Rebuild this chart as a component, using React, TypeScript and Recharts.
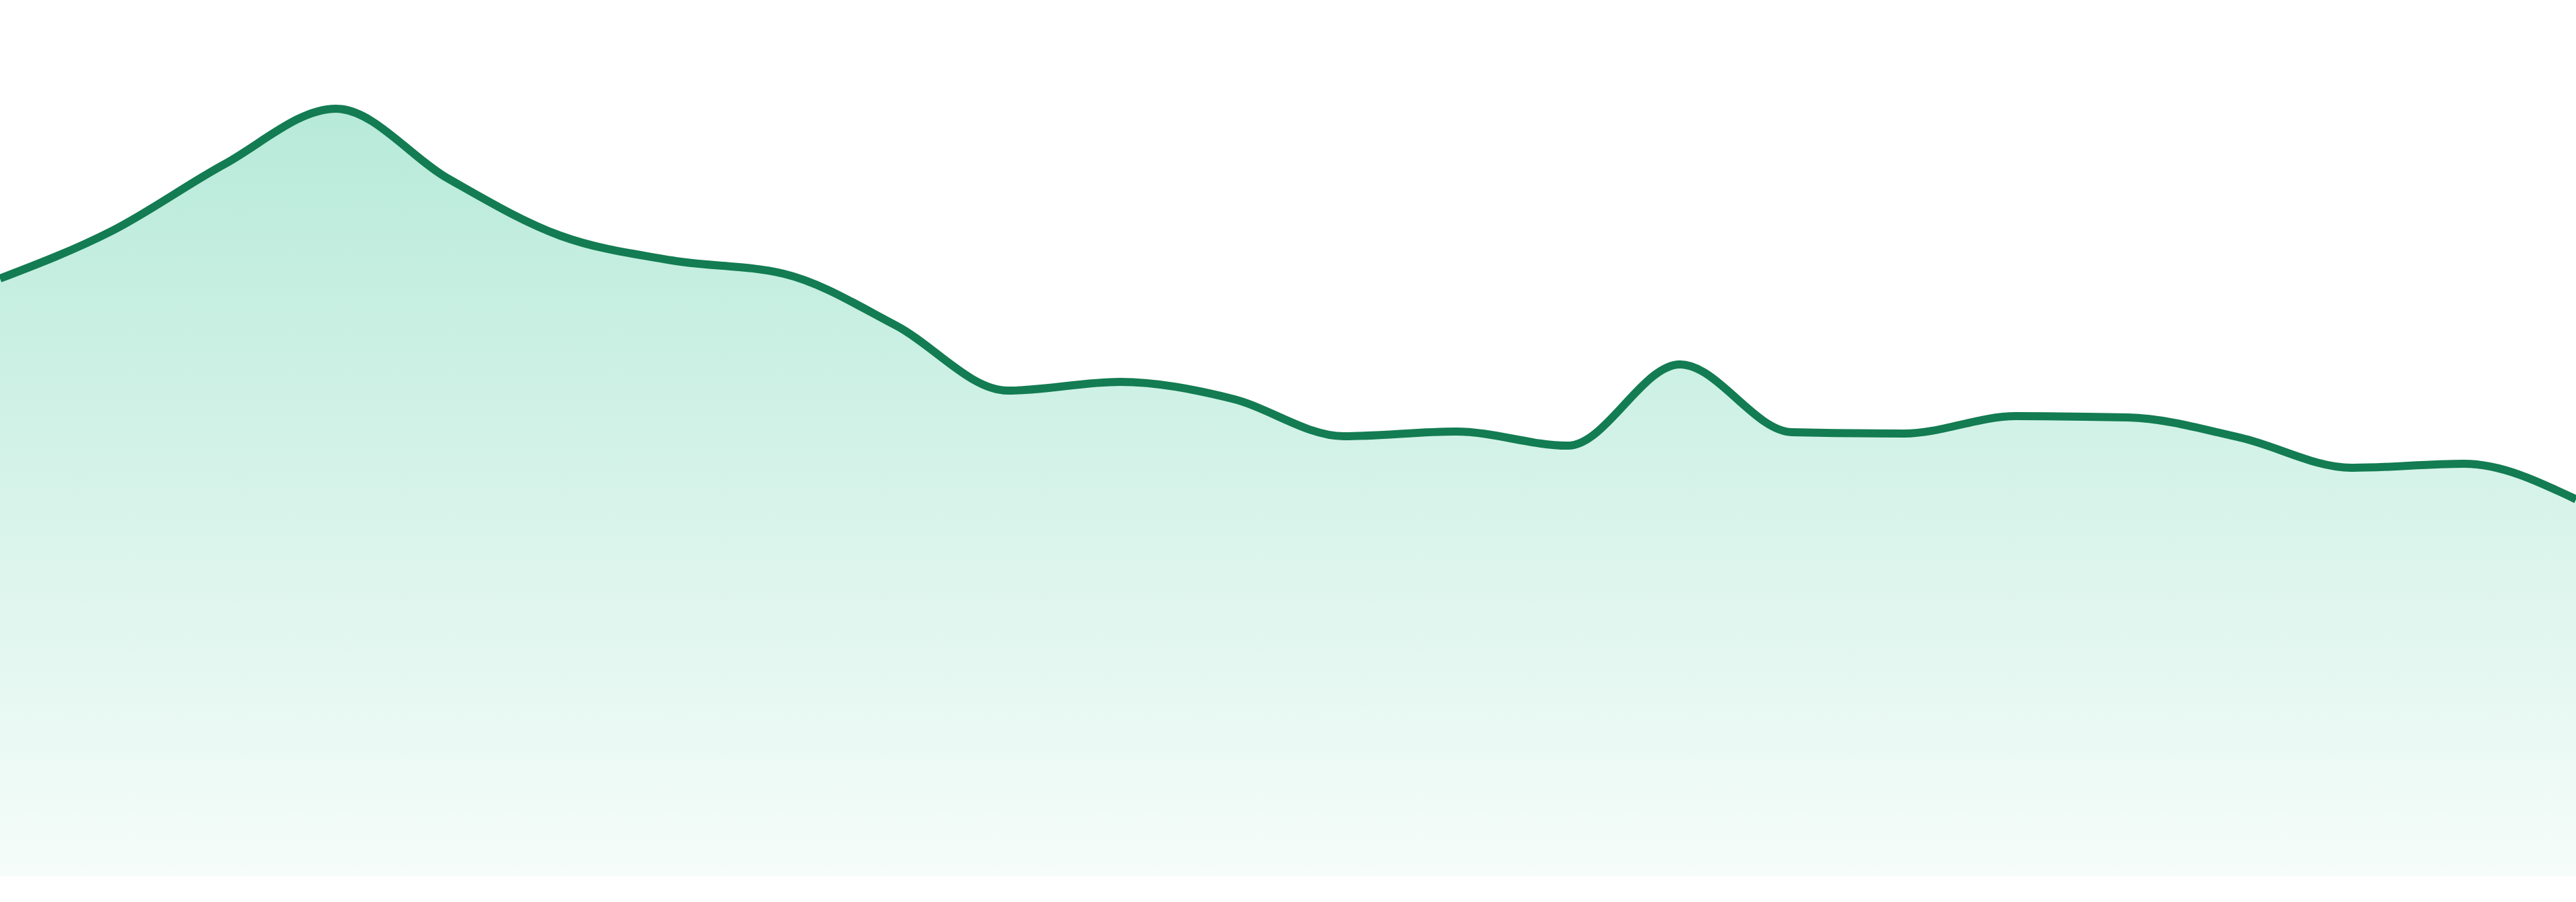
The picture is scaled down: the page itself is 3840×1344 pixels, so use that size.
import { AreaChart, Area, XAxis, YAxis } from "recharts";

// 24 hourly samples
const hours = [
    "00:00", "01:00", "02:00", "03:00", "04:00", "05:00", "06:00", "07:00",
    "08:00", "09:00", "10:00", "11:00", "12:00", "13:00", "14:00", "15:00",
    "16:00", "17:00", "18:00", "19:00", "20:00", "21:00", "22:00", "23:00",
];

const values = [
    89.0, 96.1, 106.0, 114.3, 103.9, 95.4, 91.7, 89.7,
    82.0, 72.3, 73.6, 71.1, 65.5, 66.2, 64.1, 76.2,
    66.1, 65.9, 68.5, 68.3, 65.3, 60.8, 61.4, 56.1,
];

const data = hours.map((hour, i) => ({ hour, value: values[i] }));

const App = () => {
    return (
        <div style={{ position: "absolute", left: 0, top: 0, width: 3840, height: 1344, background: "#ffffff" }}>
            <AreaChart
                width={3840}
                height={1344}
                data={data}
                margin={{ top: 5, right: 0, bottom: 39, left: 0 }}
            >
                <defs>
                    <linearGradient id="fillGreen" x1="0" y1="0" x2="0" y2="1">
                        <stop offset="0%" stopColor="#10b981" stopOpacity={0.3} />
                        <stop offset="100%" stopColor="#10b981" stopOpacity={0.04} />
                    </linearGradient>
                </defs>
                <XAxis dataKey="hour" hide />
                <YAxis hide domain={[0, 130]} />
                <Area
                    type="monotone"
                    dataKey="value"
                    stroke="#137c52"
                    strokeWidth={12}
                    fill="url(#fillGreen)"
                    fillOpacity={1}
                    dot={false}
                    activeDot={false}
                    isAnimationActive={false}
                />
            </AreaChart>
        </div>
    );
};

export default App;
